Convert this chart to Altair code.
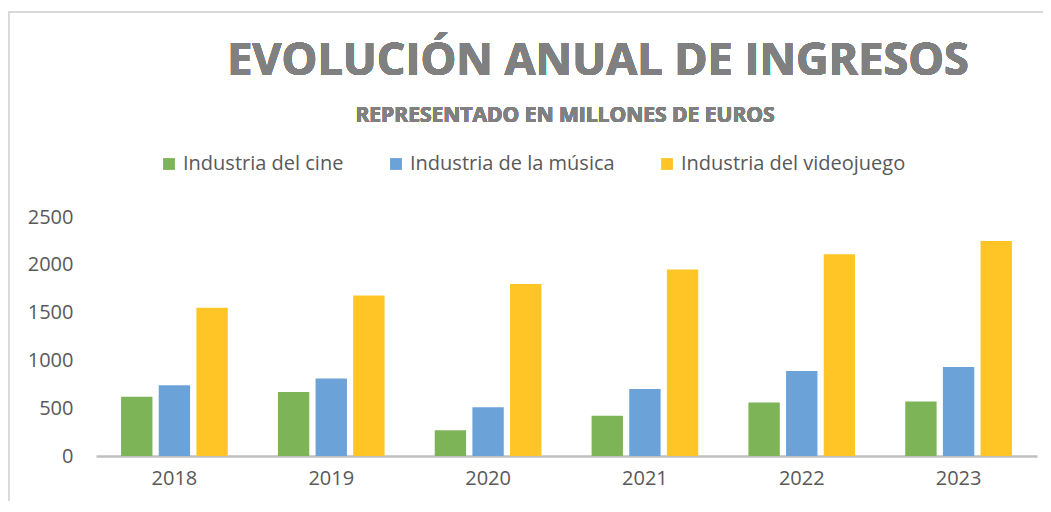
import altair as alt
import pandas as pd

years = ["2018", "2019", "2020", "2021", "2022", "2023"]
series = ["Industria del cine", "Industria de la música", "Industria del videojuego"]
cine = [620, 670, 270, 420, 560, 570]
musica = [740, 810, 510, 700, 890, 930]
videojuego = [1550, 1680, 1800, 1950, 2110, 2250]
colors = ["#7DB457", "#6BA3D9", "#FFC526"]
y_ticks = [0, 500, 1000, 1500, 2000, 2500]

title_text = "EVOLUCIÓN ANUAL DE INGRESOS"
subtitle_text = "REPRESENTADO EN MILLONES DE EUROS"

rows = []
for name, vals in zip(series, [cine, musica, videojuego]):
    for yr, v in zip(years, vals):
        rows.append({"year": yr, "series": name, "value": v})
df = pd.DataFrame(rows)

W, H = 941, 239
FONT = "Open Sans"

bars = alt.Chart(df).mark_bar().encode(
    x=alt.X("year:N", sort=years, title=None,
            scale=alt.Scale(paddingInner=0.28, paddingOuter=0.14),
            axis=alt.Axis(labelAngle=0, ticks=False, domainColor="#BFBFBF",
                          domainWidth=2.5, labelFontSize=20, labelFont=FONT,
                          labelColor="#595959", labelPadding=12)),
    xOffset=alt.XOffset("series:N", sort=series,
                        scale=alt.Scale(paddingInner=0.167, paddingOuter=0.083)),
    y=alt.Y("value:Q", title=None,
            scale=alt.Scale(domain=[0, 2500], nice=False),
            axis=alt.Axis(values=y_ticks, grid=False, ticks=False, domain=False,
                          format="d",
                          labelFontSize=20, labelFont=FONT, labelColor="#595959",
                          labelPadding=23)),
    color=alt.Color("series:N", sort=series,
                    scale=alt.Scale(domain=series, range=colors),
                    legend=alt.Legend(title=None, orient="none", direction="horizontal",
                                      legendX=63, legendY=-63, symbolType="square",
                                      symbolSize=140, symbolStrokeWidth=0,
                                      labelFontSize=20, labelFont=FONT, labelLimit=0,
                                      labelColor="#595959", columnPadding=42,
                                      labelOffset=4)),
)

title = alt.Chart(df).mark_text(
    text=title_text, font=FONT, fontSize=45, fontWeight="bold", color="#808080",
    align="center", baseline="alphabetic"
).encode(x=alt.value(502), y=alt.value(-142))

subtitle = alt.Chart(df).mark_text(
    text=subtitle_text, font=FONT, fontSize=21, fontWeight="bold", color="#808080",
    align="center", baseline="alphabetic"
).encode(x=alt.value(469), y=alt.value(-95))

border_top = alt.Chart(df).mark_rule(color="#D9D9D9", strokeWidth=1.5).encode(
    x=alt.value(-88), x2=alt.value(W + 10), y=alt.value(-205))
border_left = alt.Chart(df).mark_rule(color="#D9D9D9", strokeWidth=1.5).encode(
    x=alt.value(-87.5), y=alt.value(-205), y2=alt.value(H + 45))

chart = alt.layer(border_top, border_left, bars, title, subtitle).properties(
    width=W, height=H,
    autosize=alt.AutoSizeParams(type="none"),
    padding={"left": 88, "top": 209, "right": 6, "bottom": 45},
).configure_view(stroke=None)

chart.save("out.html", embed_options={"renderer": "svg", "actions": False})
